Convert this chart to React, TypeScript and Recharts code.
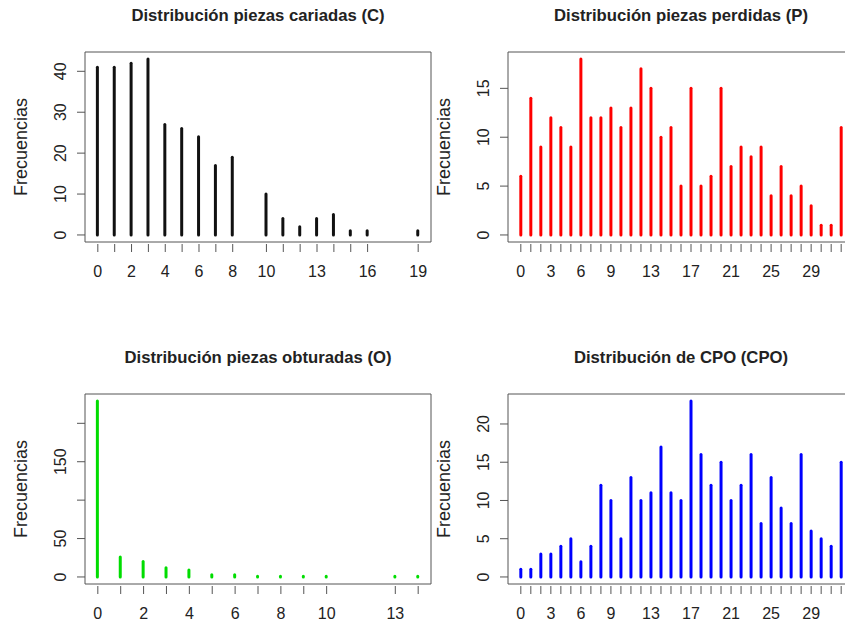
import { Bar, BarChart, ReferenceArea, XAxis, YAxis } from "recharts";

// Distribución piezas cariadas (C)
const cariadasX = [0, 1, 2, 3, 4, 5, 6, 7, 8, 10, 11, 12, 13, 14, 15, 16, 19];
const cariadasN = [41, 41, 42, 43, 27, 26, 24, 17, 19, 10, 4, 2, 4, 5, 1, 1, 1];
const cariadasLabels = [0, 2, 4, 6, 8, 10, 13, 16, 19];
const cariadasYTicks = [0, 10, 20, 30, 40];

// Distribución piezas perdidas (P)
const perdidasX = [0, 1, 2, 3, 4, 5, 6, 7, 8, 9, 10, 11, 12, 13, 14, 15, 16, 17, 18, 19, 20, 21, 22, 23, 24, 25, 26, 27, 28, 29, 30, 31, 32];
const perdidasN = [6, 14, 9, 12, 11, 9, 18, 12, 12, 13, 11, 13, 17, 15, 10, 11, 5, 15, 5, 6, 15, 7, 9, 8, 9, 4, 7, 4, 5, 3, 1, 1, 11];
const perdidasLabels = [0, 3, 6, 9, 13, 17, 21, 25, 29];
const perdidasYTicks = [0, 5, 10, 15];

// Distribución piezas obturadas (O)
const obturadasX = [0, 1, 2, 3, 4, 5, 6, 7, 8, 9, 10, 13, 14];
const obturadasN = [229, 26, 20, 12, 9, 3, 3, 1, 1, 1, 1, 1, 1];
const obturadasLabels = [0, 2, 4, 6, 8, 10, 13];
const obturadasYTicks = [0, 50, 100, 150, 200];
const obturadasYLabels = [0, 50, 150];

// Distribución de CPO (CPO)
const cpoX = [0, 1, 2, 3, 4, 5, 6, 7, 8, 9, 10, 11, 12, 13, 14, 15, 16, 17, 18, 19, 20, 21, 22, 23, 24, 25, 26, 27, 28, 29, 30, 31, 32];
const cpoN = [1, 1, 3, 3, 4, 5, 2, 4, 12, 10, 5, 13, 10, 11, 17, 11, 10, 23, 16, 12, 15, 10, 12, 16, 7, 13, 9, 7, 16, 6, 5, 4, 15];
const cpoLabels = [0, 3, 6, 9, 13, 17, 21, 25, 29];
const cpoYTicks = [0, 5, 10, 15, 20];

const FONT = '"Liberation Sans", Arial, Helvetica, sans-serif';
const PLOT_LEFT = 85;
const PLOT_TOP = 52;
const PLOT_W = 346;
const PLOT_H = 190;
const CHART_W = PLOT_LEFT + PLOT_W + 10;
const CHART_H = 290;

// R-style 4% axis expansion
const expand = (lo: number, hi: number): [number, number] => {
  const pad = (hi - lo) * 0.04;
  return [lo - pad, hi + pad];
};

type PanelProps = {
  title: string;
  left: number;
  top: number;
  xs: number[];
  ns: number[];
  xLabels: number[];
  yTicks: number[];
  yLabels?: number[];
  color: string;
  lineWidth: number;
};

function Panel({ title, left, top, xs, ns, xLabels, yTicks, yLabels, color, lineWidth }: PanelProps) {
  const data = xs.map((x, i) => ({ x, n: ns[i] }));
  const xDomain = expand(Math.min(...xs), Math.max(...xs));
  const yDomain = expand(0, Math.max(...ns));
  const shownY = yLabels ?? yTicks;
  const boxBottom = PLOT_TOP + PLOT_H;

  const renderXTick = (props: any) => {
    const { x, payload } = props;
    return (
      <g>
        <line x1={x} x2={x} y1={boxBottom + 2} y2={boxBottom + 10} stroke="#555" />
        {xLabels.includes(payload.value) && (
          <text x={x} y={boxBottom + 35} textAnchor="middle" fontSize={16} fontFamily={FONT} fill="#222">
            {payload.value}
          </text>
        )}
      </g>
    );
  };

  const renderYTick = (props: any) => {
    const { y, payload } = props;
    return (
      <g>
        <line x1={PLOT_LEFT - 8} x2={PLOT_LEFT} y1={y} y2={y} stroke="#555" />
        {shownY.includes(payload.value) && (
          <text
            transform={`translate(${PLOT_LEFT - 25},${y}) rotate(-90)`}
            dy="0.35em"
            textAnchor="middle"
            fontSize={16}
            fontFamily={FONT}
            fill="#222"
          >
            {payload.value}
          </text>
        )}
      </g>
    );
  };

  const stick = (props: any) => {
    const { x, y, width, height } = props;
    const cx = x + width / 2;
    return (
      <line x1={cx} x2={cx} y1={y} y2={y + height} stroke={color} strokeWidth={lineWidth} strokeLinecap="round" />
    );
  };

  return (
    <div style={{ position: "absolute", left: left - PLOT_LEFT, top: top - PLOT_TOP, width: CHART_W, height: CHART_H }}>
      <div
        style={{
          position: "absolute",
          left: PLOT_LEFT,
          width: PLOT_W,
          top: PLOT_TOP - 46,
          textAlign: "center",
          fontFamily: FONT,
          fontWeight: "bold",
          fontSize: 16.7,
          color: "#222",
          whiteSpace: "nowrap",
        }}
      >
        {title}
      </div>
      <BarChart
        width={CHART_W}
        height={CHART_H}
        data={data}
        margin={{ top: PLOT_TOP, right: 10, bottom: 0, left: 0 }}
      >
        <XAxis
          dataKey="x"
          type="number"
          domain={xDomain}
          allowDataOverflow
          ticks={xs}
          interval={0}
          height={CHART_H - PLOT_TOP - PLOT_H}
          axisLine={false}
          tickLine={false}
          tick={renderXTick}
        />
        <YAxis
          type="number"
          domain={yDomain}
          allowDataOverflow
          ticks={yTicks}
          interval={0}
          width={PLOT_LEFT}
          axisLine={false}
          tickLine={false}
          tick={renderYTick}
          label={{
            value: "Frecuencias",
            angle: -90,
            position: "insideLeft",
            offset: 21,
            style: { textAnchor: "middle", fontSize: 18, fontFamily: FONT, fill: "#222" },
          }}
        />
        <ReferenceArea
          x1={xDomain[0]}
          x2={xDomain[1]}
          y1={yDomain[0]}
          y2={yDomain[1]}
          fill="none"
          stroke="#555"
          strokeWidth={1}
          ifOverflow="visible"
        />
        <Bar dataKey="n" barSize={4} shape={stick} isAnimationActive={false} />
      </BarChart>
    </div>
  );
}

export default function App() {
  return (
    <div
      style={{
        position: "absolute",
        left: 0,
        top: 0,
        width: 845,
        height: 625,
        overflow: "hidden",
        background: "#fff",
      }}
    >
      <Panel
        title="Distribución piezas cariadas (C)"
        left={85}
        top={52}
        xs={cariadasX}
        ns={cariadasN}
        xLabels={cariadasLabels}
        yTicks={cariadasYTicks}
        color="#111"
        lineWidth={3}
      />
      <Panel
        title="Distribución piezas perdidas (P)"
        left={508}
        top={52}
        xs={perdidasX}
        ns={perdidasN}
        xLabels={perdidasLabels}
        yTicks={perdidasYTicks}
        color="#ff0000"
        lineWidth={3}
      />
      <Panel
        title="Distribución piezas obturadas (O)"
        left={85}
        top={394}
        xs={obturadasX}
        ns={obturadasN}
        xLabels={obturadasLabels}
        yTicks={obturadasYTicks}
        yLabels={obturadasYLabels}
        color="#00dd00"
        lineWidth={3}
      />
      <Panel
        title="Distribución de CPO (CPO)"
        left={508}
        top={394}
        xs={cpoX}
        ns={cpoN}
        xLabels={cpoLabels}
        yTicks={cpoYTicks}
        color="#0000ff"
        lineWidth={3}
      />
    </div>
  );
}
